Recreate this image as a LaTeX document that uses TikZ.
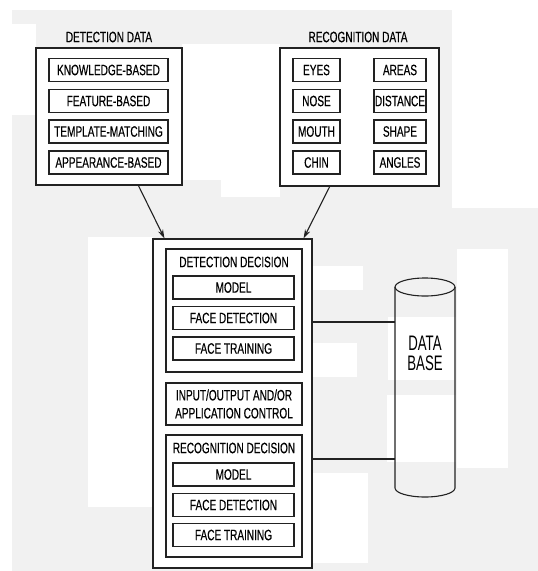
\documentclass[tikz,border=0pt]{standalone}
\usepackage{fontspec}
\setmainfont{Liberation Sans}[FakeStretch=0.67,FakeBold=0.4]
\newfontfamily\dbfont{Liberation Sans}[FakeStretch=0.63]
\usetikzlibrary{arrows.meta,calc}
\definecolor{scan}{HTML}{F1F1F1}
\definecolor{ink}{HTML}{222222}
\begin{document}
\begin{tikzpicture}[x=1pt,y=-1pt,
  frame/.style={draw=ink,line width=1.1pt,fill=white,inner sep=0pt},
  item/.style={draw=ink,line width=1.5pt,fill=white,inner sep=0pt,
    minimum height=23pt,font=\fontsize{15}{15}\selectfont},
  title/.style={inner sep=0pt,font=\fontsize{15}{15}\selectfont},
  link/.style={draw=ink,line width=1.1pt},
  feed/.style={link,-{Stealth[length=9pt,width=5.5pt]}}]
\useasboundingbox (0,0) rectangle (538,571);

% paper tone
\fill[white] (0,0) rectangle (538,571);
\fill[scan] (12,10) rectangle (538,571);
\foreach \a/\b/\c/\d in {12/24/36/115, 182/44/280/180, 221/180/280/197,
    452/0/538/208, 457/249/508/468, 88/237/153/507, 312/266/363/290,
    312/343/357/377, 313/473/368/563, 388/317/456/380, 387/395/456/462}
  \fill[white] (\a,\b) rectangle (\c,\d);

% detection data
\node[title] (dettitle) at (109,37) {DETECTION DATA};
\node[frame,minimum width=146pt,minimum height=137pt] (detdata) at (109,116.5) {};
\node[item,minimum width=119pt] (kb) at (108.5,70) {KNOWLEDGE-BASED};
\node[item,minimum width=119pt] (fb) at (108.5,101) {FEATURE-BASED};
\node[item,minimum width=119pt] (tm) at (108.5,131.5) {TEMPLATE-MATCHING};
\node[item,minimum width=119pt] (ab) at (108.5,162.5) {APPEARANCE-BASED};

% recognition data
\node[title] (rectitle) at (358,37) {RECOGNITION DATA};
\node[frame,minimum width=159pt,minimum height=138pt] (recdata) at (359.5,117) {};
\node[item,minimum width=47pt] (eyes) at (316.5,70) {EYES};
\node[item,minimum width=47pt] (nose) at (316.5,101) {NOSE};
\node[item,minimum width=47pt] (mouth) at (316.5,131.5) {MOUTH};
\node[item,minimum width=47pt] (chin) at (316.5,162.5) {CHIN};
\node[item,minimum width=52pt] (areas) at (400,70) {AREAS};
\node[item,minimum width=52pt] (dist) at (400,101) {DISTANCE};
\node[item,minimum width=52pt] (shape) at (400,131.5) {SHAPE};
\node[item,minimum width=52pt] (angles) at (400,162.5) {ANGLES};

% main unit
\node[frame,minimum width=159pt,minimum height=329pt] (main) at (232.5,403.5) {};

\node[frame,minimum width=136pt,minimum height=123pt] (detdec) at (234,310.5) {};
\node[title] (detdectitle) at (234,262) {DETECTION DECISION};
\node[item,minimum width=121pt] (dmodel) at (233.5,287.5) {MODEL};
\node[item,minimum width=121pt] (dfd) at (233.5,318) {FACE DETECTION};
\node[item,minimum width=121pt] (dft) at (233.5,348.5) {FACE TRAINING};

\node[frame,minimum width=136pt,minimum height=42pt,align=center,
  font=\fontsize{15}{18}\selectfont] (io) at (234,404)
  {INPUT/OUTPUT AND/OR\\APPLICATION CONTROL};

\node[frame,minimum width=136pt,minimum height=122pt] (recdec) at (234,496) {};
\node[title] (recdectitle) at (234,448) {RECOGNITION DECISION};
\node[item,minimum width=121pt] (rmodel) at (233.5,474.5) {MODEL};
\node[item,minimum width=121pt] (rfd) at (233.5,505) {FACE DETECTION};
\node[item,minimum width=121pt] (rft) at (233.5,535) {FACE TRAINING};

% database cylinder
\draw[link] (395,287) -- (395,488) arc[start angle=180,end angle=0,x radius=30,y radius=9] -- (455,287);
\draw[link] (425,287) ellipse [x radius=30,y radius=9];
\node[align=center,inner sep=0pt,font=\dbfont\fontsize{21}{20}\selectfont] (db) at (425,353) {DATA\\BASE};
\coordinate (dbA) at (395,322);
\coordinate (dbB) at (395,459);

% connectors
\draw[feed] ($(detdata.south west)!0.70!(detdata.south east)$) -- ($(main.north west)+(12,0)$);
\draw[feed] ($(recdata.south west)!0.314!(recdata.south east)$) -- ($(main.north east)+(-9,0)$);
\draw[link] (main.east |- dbA) -- (dbA);
\draw[link] (main.east |- dbB) -- (dbB);
\end{tikzpicture}
\end{document}
